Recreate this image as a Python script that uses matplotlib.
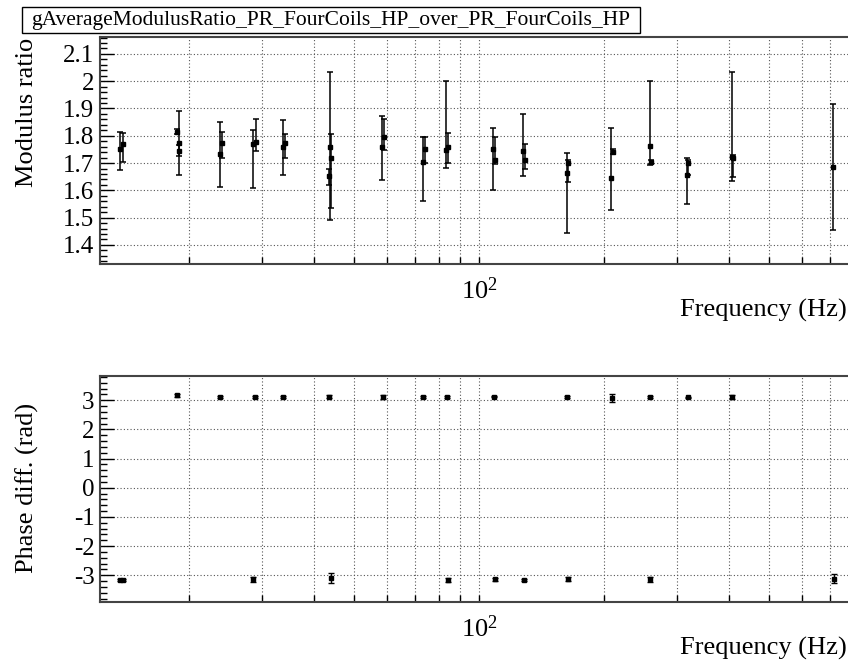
import numpy as np
import matplotlib
matplotlib.use("Agg")
import matplotlib.pyplot as plt
from matplotlib.ticker import FixedLocator, FixedFormatter, MultipleLocator
from matplotlib.patches import Rectangle

plt.rcParams['font.family'] = ['Liberation Serif', 'DejaVu Serif']
plt.rcParams['mathtext.fontset'] = 'custom'
plt.rcParams['mathtext.rm'] = 'Liberation Serif'
plt.rcParams['mathtext.it'] = 'Liberation Serif:italic'

title = "gAverageModulusRatio_PR_FourCoils_HP_over_PR_FourCoils_HP"

# ---- Modulus ratio data (Hz, value, lower bound, upper bound) ----
mod_freq = [13.64, 13.91, 18.72, 18.88, 18.98, 23.70, 24.03, 28.61, 29.01,
            33.71, 33.99, 43.51, 43.75, 44.00, 58.39, 59.03, 73.50, 74.11,
            83.50, 84.19, 108.1, 109.0, 128.0, 129.1, 162.9, 164.3, 208.0,
            209.8, 258.2, 259.7, 317.1, 319.7, 407.0, 409.3, 714.8]
mod_val = [1.750, 1.768, 1.815, 1.775, 1.745, 1.735, 1.772, 1.770, 1.778,
           1.757, 1.775, 1.652, 1.757, 1.720, 1.757, 1.796, 1.705, 1.752,
           1.747, 1.757, 1.752, 1.710, 1.744, 1.711, 1.662, 1.700, 1.644,
           1.740, 1.763, 1.703, 1.658, 1.700, 1.724, 1.717, 1.686]
mod_low = [1.673, 1.705, 1.805, 1.657, 1.725, 1.613, 1.717, 1.608, 1.745,
           1.657, 1.719, 1.620, 1.491, 1.536, 1.639, 1.747, 1.560, 1.700,
           1.683, 1.701, 1.601, 1.695, 1.651, 1.677, 1.443, 1.631, 1.528,
           1.732, 1.692, 1.695, 1.551, 1.655, 1.635, 1.650, 1.454]
mod_high = [1.815, 1.811, 1.825, 1.890, 1.765, 1.850, 1.815, 1.821, 1.860,
            1.856, 1.807, 1.680, 2.033, 1.807, 1.872, 1.860, 1.795, 1.797,
            2.000, 1.811, 1.829, 1.797, 1.878, 1.771, 1.738, 1.712, 1.827,
            1.750, 2.000, 1.710, 1.719, 1.710, 2.035, 1.730, 1.918]

# ---- Phase difference data (Hz, value, error) ----
ph_freq = [13.64, 13.91, 18.7, 23.8, 28.6, 28.9, 33.8, 43.6, 43.9, 58.6,
           73.4, 83.9, 84.2, 108.9, 109.2, 128.6, 163.2, 163.6, 208.8,
           258.0, 258.5, 318.2, 407.9, 716.0]
ph_val = [-3.16, -3.16, 3.17, 3.11, -3.14, 3.11, 3.11, 3.12, -3.10, 3.11,
          3.12, 3.12, -3.16, 3.12, -3.14, -3.16, 3.10, -3.14, 3.09,
          3.10, -3.14, 3.10, 3.10, -3.12]
ph_err = [0.03, 0.03, 0.05, 0.03, 0.08, 0.03, 0.03, 0.05, 0.18, 0.06,
          0.03, 0.03, 0.06, 0.02, 0.05, 0.03, 0.04, 0.07, 0.14,
          0.04, 0.08, 0.02, 0.07, 0.15]

xminor = [20, 30, 40, 50, 60, 70, 80, 90, 100, 200, 300, 400, 500, 600, 700]

W, H = 848, 665
fig = plt.figure(figsize=(W / 100, H / 100), dpi=100)

def fx(px):
    return px / W

def fy(py):
    return 1 - py / H

ax1 = fig.add_axes([fx(100), fy(264), 1 - fx(100), fy(37) - fy(264)])
ax2 = fig.add_axes([fx(100), fy(602), 1 - fx(100), fy(376) - fy(602)])

grid_kw = dict(color='#555555', linestyle=(0, (1, 2)), linewidth=0.8)

for ax in (ax1, ax2):
    ax.set_xscale('log')
    ax.set_xlim(12.21, 775)
    ax.xaxis.set_major_locator(FixedLocator(xminor))
    ax.xaxis.set_major_formatter(FixedFormatter(
        [r'$\mathregular{10^{2}}$' if v == 100 else '' for v in xminor]))
    ax.xaxis.set_minor_locator(FixedLocator([]))
    ax.tick_params(axis='x', which='major', direction='in', length=5,
                   width=1, pad=10, labelsize=19, top=False)
    ax.tick_params(axis='y', which='major', direction='in', length=10,
                   width=1, labelsize=18, pad=4, right=False)
    ax.tick_params(axis='y', which='minor', direction='in', length=5,
                   width=1, right=False)
    ax.grid(True, which='major', **grid_kw)
    for s in ('left', 'bottom', 'top'):
        ax.spines[s].set_color('#444444')
        ax.spines[s].set_linewidth(1.5)
    ax.spines['right'].set_visible(False)

# top panel
ax1.set_ylim(1.33, 2.162)
ax1.yaxis.set_major_locator(FixedLocator([1.4, 1.5, 1.6, 1.7, 1.8, 1.9, 2.0, 2.1]))
ax1.yaxis.set_major_formatter(FixedFormatter(['1.4', '1.5', '1.6', '1.7', '1.8', '1.9', '2', '2.1']))
ax1.yaxis.set_minor_locator(MultipleLocator(0.02))

mv = np.array(mod_val)
yerr1 = [mv - np.array(mod_low), np.array(mod_high) - mv]
ax1.errorbar(mod_freq, mod_val, yerr=yerr1, fmt='s', color='black',
             markersize=3, elinewidth=1.1, capsize=2, capthick=1.1, zorder=3)

# bottom panel
ax2.set_ylim(-3.915, 3.83)
ax2.yaxis.set_major_locator(FixedLocator([-3, -2, -1, 0, 1, 2, 3]))
ax2.yaxis.set_major_formatter(FixedFormatter(['-3', '-2', '-1', '0', '1', '2', '3']))
ax2.yaxis.set_minor_locator(MultipleLocator(0.2))
ax2.errorbar(ph_freq, ph_val, yerr=ph_err, fmt='s', color='black',
             markersize=3, elinewidth=1.0, capsize=2, capthick=1.0, zorder=3)

# title box
fig.patches.append(Rectangle((fx(22), fy(33)), fx(640) - fx(22), fy(7) - fy(33),
                             transform=fig.transFigure, facecolor='white',
                             edgecolor='black', linewidth=1, zorder=5))
fig.text(fx(331), fy(20), title, ha='center', va='center', fontsize=15.5, zorder=6)

# axis titles
fig.text(fx(27), fy(38), 'Modulus ratio', rotation=90, ha='center', va='top', fontsize=19)
fig.text(fx(27), fy(403), 'Phase diff. (rad)', rotation=90, ha='center', va='top', fontsize=19)
fig.text(fx(847), fy(310), 'Frequency (Hz)', ha='right', va='center', fontsize=19)
fig.text(fx(847), fy(648), 'Frequency (Hz)', ha='right', va='center', fontsize=19)

fig.savefig('out.png', dpi=100)
